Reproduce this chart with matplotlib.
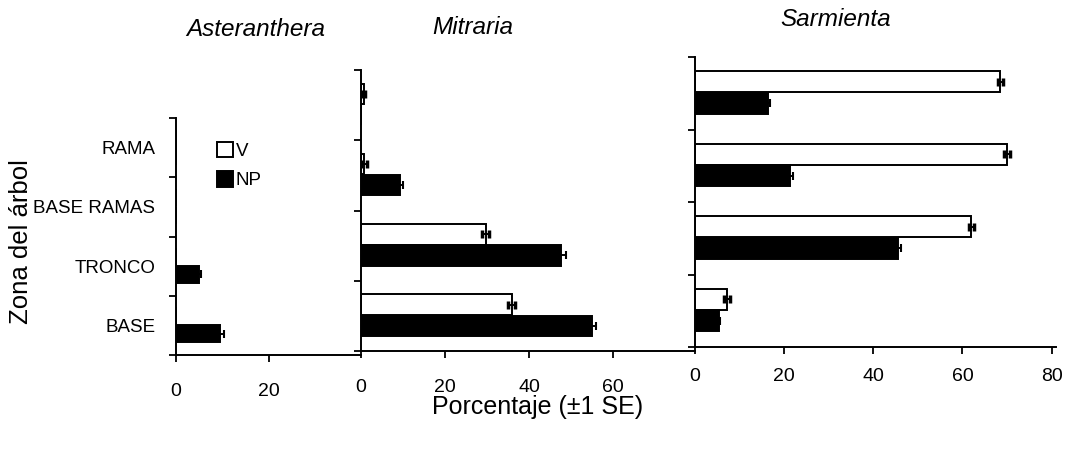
import numpy as np
import matplotlib
matplotlib.use("Agg")
import matplotlib.pyplot as plt
from matplotlib.patches import Patch

# zonas del árbol, de abajo hacia arriba
zonas = ["BASE", "TRONCO", "BASE RAMAS", "RAMA"]

aster_v = [0, 0, 0, 0]
aster_v_se = [0, 0, 0, 0]
aster_np = [9.6, 5.0, 0, 0]
aster_np_se = [0.8, 0.4, 0, 0]

mitr_v = [35.9, 29.7, 0.8, 0.6]
mitr_v_se = [0.8, 0.8, 0.7, 0.3]
mitr_np = [54.9, 47.5, 9.4, 0]
mitr_np_se = [1.0, 1.2, 0.6, 0]

sarm_v = [7.2, 62.0, 70.0, 68.5]
sarm_v_se = [0.6, 0.6, 0.6, 0.6]
sarm_np = [5.3, 45.5, 21.3, 16.3]
sarm_np_se = [0.4, 0.8, 0.8, 0.5]

W, H = 1066, 455
fig = plt.figure(figsize=(W / 100, H / 100), dpi=100)
fig.patch.set_facecolor("white")

FAM = ["Liberation Sans", "DejaVu Sans"]


def px_axes(x0, x1, ytop, ybot):
    return fig.add_axes([x0 / W, 1 - ybot / H, (x1 - x0) / W, (ybot - ytop) / H])


def panel(ax, v, v_se, np_, np_se, xmax, xticks, pad):
    y = np.arange(len(zonas))
    h = 0.29
    ax.barh(y + 0.16, v, height=h, color="white", edgecolor="black", linewidth=1.4, zorder=2)
    ax.barh(y - 0.14, np_, height=h, color="black", edgecolor="black", linewidth=1.4, zorder=2)
    v_a, vse = np.array(v), np.array(v_se)
    n_a, nse = np.array(np_), np.array(np_se)
    mv = v_a > 0
    mn = n_a > 0
    ax.errorbar(v_a[mv], y[mv] + 0.16, xerr=vse[mv], fmt="none", ecolor="black",
                elinewidth=1.4, capsize=3, capthick=2.5, zorder=3)
    ax.errorbar(n_a[mn], y[mn] - 0.14, xerr=nse[mn], fmt="none", ecolor="black",
                elinewidth=1.4, capsize=3, capthick=1.5, zorder=3)
    ax.set_xlim(0, xmax)
    ax.set_ylim(-0.5, len(zonas) - 0.5)
    ax.set_yticks(np.arange(len(zonas) + 1) - 0.5)
    ax.set_yticklabels([])
    ax.set_xticks(xticks)
    ax.set_xticklabels([str(t) for t in xticks], family=FAM, fontsize=14)
    ax.tick_params(axis="both", which="major", length=5, width=1.3, direction="out")
    ax.tick_params(axis="x", pad=pad)
    for s in ["top", "right"]:
        ax.spines[s].set_visible(False)
    for s in ["left", "bottom"]:
        ax.spines[s].set_linewidth(1.4)
    ax.set_facecolor("none")


ax1 = px_axes(176, 361, 118, 355)
panel(ax1, aster_v, aster_v_se, aster_np, aster_np_se, 40, [0, 20], 15)
ax1.set_yticks(np.arange(len(zonas)), minor=True)
ax1.set_yticklabels(zonas, minor=True, family=FAM, fontsize=13.5)
ax1.tick_params(axis="y", which="minor", length=0, pad=15)

ax2 = px_axes(361, 695, 70, 351)
panel(ax2, mitr_v, mitr_v_se, mitr_np, mitr_np_se, 79.5, [0, 20, 40, 60], 15)

ax3 = px_axes(695, 1056, 57, 347)
panel(ax3, sarm_v, sarm_v_se, sarm_np, sarm_np_se, 81, [0, 20, 40, 60, 80], 10)

handles = [Patch(facecolor="white", edgecolor="black", linewidth=1.4, label="V"),
           Patch(facecolor="black", edgecolor="black", linewidth=1.4, label="NP")]
ax1.legend(handles=handles, loc="upper left", bbox_to_anchor=(0.22, 0.9),
           frameon=False, handlelength=0.85, handleheight=0.9, handletextpad=0.15,
           labelspacing=0.6, borderpad=0, borderaxespad=0,
           prop={"family": FAM, "size": 13.5})

fig.text(256 / W, 1 - 30 / H, "Asteranthera", ha="center", va="center",
         style="italic", family=FAM, fontsize=17.5)
fig.text(473 / W, 1 - 28 / H, "Mitraria", ha="center", va="center",
         style="italic", family=FAM, fontsize=17.5)
fig.text(836 / W, 1 - 20 / H, "Sarmienta", ha="center", va="center",
         style="italic", family=FAM, fontsize=17.5)

fig.text(21 / W, 1 - 242 / H, "Zona del árbol", ha="center", va="center",
         rotation=90, family=FAM, fontsize=18.5)
fig.text(538 / W, 1 - 407 / H, "Porcentaje (±1 SE)", ha="center", va="center",
         family=FAM, fontsize=18)

fig.savefig("out.png", dpi=100, facecolor="white")
